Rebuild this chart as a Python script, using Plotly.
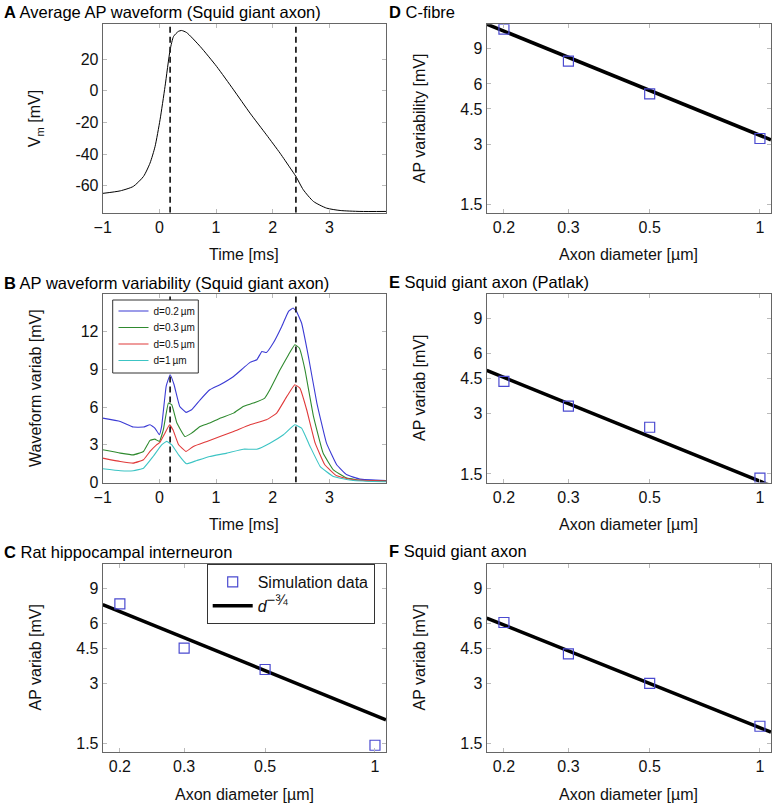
import plotly.graph_objects as go
from plotly.subplots import make_subplots

W, H = 775, 807

# ---------------- data ----------------
# Panel A: average AP waveform
t_a = [-1.0, -0.69, -0.46, -0.28, -0.165, -0.076, 0.012, 0.10, 0.19, 0.25, 0.335, 0.39, 0.48,
       0.72, 1.01, 1.31, 1.60, 1.89, 2.13, 2.31, 2.41, 2.54, 2.72, 2.95, 3.19, 3.54, 4.0]
v_a = [-64.8, -63.2, -60.4, -54.1, -45.7, -35.2, -18.3, 2.7, 25.9, 34.3, 37.5, 38.1, 36.8,
       28.0, 15.4, 0.6, -14.1, -27.8, -39.4, -48.8, -54.1, -62.5, -69.9, -74.1, -75.6, -76.2, -76.2]

event_times = [0.19, 2.41]

# Panel B: waveform variability
t_b02 = [-1.0, -0.69, -0.46, -0.28, -0.165, -0.08, 0.0, 0.04, 0.12, 0.19, 0.26, 0.36, 0.47, 0.57,
         0.72, 0.89, 1.07, 1.31, 1.48, 1.60, 1.72, 1.81, 1.89, 2.01, 2.16, 2.28, 2.36, 2.42, 2.51,
         2.63, 2.78, 2.95, 3.13, 3.31, 3.54, 4.0]
v_b02 = [5.12, 4.86, 4.41, 4.41, 4.59, 4.33, 3.80, 4.46, 7.65, 8.58, 7.78, 6.05, 5.58, 5.79,
         6.58, 7.38, 7.78, 8.44, 9.10, 9.56, 9.77, 10.43, 10.35, 11.10, 12.42, 13.62, 13.88, 13.62, 12.69,
         10.04, 6.32, 3.13, 1.41, 0.61, 0.27, 0.16]

t_b03 = [-1.0, -0.69, -0.46, -0.28, -0.165, -0.08, 0.0, 0.07, 0.16, 0.22, 0.31, 0.45, 0.57, 0.72,
         0.89, 1.07, 1.31, 1.48, 1.66, 1.86, 1.95, 2.13, 2.28, 2.39, 2.47, 2.57, 2.72, 2.89, 3.07,
         3.31, 3.6, 4.0]
v_b03 = [2.60, 2.34, 2.20, 2.47, 3.35, 3.45, 3.27, 4.19, 6.32, 6.18, 4.73, 3.66, 3.93, 4.46,
         4.73, 5.12, 5.52, 6.05, 6.32, 6.72, 7.38, 8.97, 10.17, 10.96, 10.70, 8.97, 5.26, 2.34, 1.01,
         0.35, 0.16, 0.11]

t_b05 = [-1.0, -0.69, -0.46, -0.28, -0.165, -0.05, 0.01, 0.10, 0.18, 0.24, 0.34, 0.47, 0.60, 0.84,
         1.07, 1.31, 1.60, 1.89, 2.07, 2.25, 2.39, 2.48, 2.60, 2.75, 2.92, 3.13, 3.42, 4.0]
v_b05 = [1.94, 1.67, 1.54, 1.81, 2.47, 3.00, 3.19, 3.93, 4.59, 4.19, 3.00, 2.47, 2.87, 3.27,
         3.66, 4.06, 4.59, 4.99, 5.52, 6.85, 7.78, 7.51, 5.79, 3.13, 1.41, 0.53, 0.21, 0.11]

t_b1 = [-1.0, -0.69, -0.46, -0.28, -0.11, 0.04, 0.13, 0.22, 0.34, 0.48, 0.66, 0.89, 1.19, 1.48,
        1.72, 1.95, 2.19, 2.39, 2.51, 2.66, 2.84, 3.07, 3.42, 4.0]
v_b1 = [1.09, 0.93, 0.93, 1.14, 2.07, 3.00, 3.27, 3.00, 2.20, 1.49, 1.75, 2.07, 2.34, 2.65,
        2.65, 3.13, 3.80, 4.59, 4.33, 2.87, 1.27, 0.48, 0.16, 0.05]

b_labels = ["d=0.2\u2009µm", "d=0.3\u2009µm", "d=0.5\u2009µm", "d=1\u2009µm"]
b_colors = ["#3b3bd4", "#2f8a2f", "#e03a3a", "#3cc4c4"]

# Panels C-F: AP variability vs axon diameter
diam = [0.2, 0.3, 0.5, 1.0]
var_c = [7.49, 4.50, 3.52, 1.47]
var_d = [11.3, 7.8, 5.35, 3.2]
var_e = [4.36, 3.28, 2.57, 1.43]
var_f = [6.05, 4.21, 3.00, 1.83]

fit_x = [0.1795, 1.072]
fit_c = [7.43, 1.97]
fit_d = [11.97, 3.15]
fit_e = [4.95, 1.31]
fit_f = [6.36, 1.71]

x_ticks_t = [-1, 0, 1, 2, 3]
x_ticktext_t = ["\u22121", "0", "1", "2", "3"]
y_ticks_a = [-60, -40, -20, 0, 20]
y_ticks_b = [0, 3, 6, 9, 12]
log_y_ticks = [1.5, 3, 4.5, 6, 9]
log_x_ticks = [0.2, 0.3, 0.5, 1]

# ---------------- figure ----------------
fig = make_subplots(rows=3, cols=2)

FONT = "Liberation Sans, Arial, sans-serif"
sq_color = "#4a4ad0"

# one single-entry legend per B curve so the entries can sit as tightly as in the original
b_legend_ids = ["legend", "legend3", "legend4", "legend5"]
b_legend_centers = [311.0, 327.5, 344.0, 360.5]   # pixel rows of entries

# A
fig.add_trace(go.Scatter(x=t_a, y=v_a, mode="lines", line=dict(color="black", width=1, shape="spline", smoothing=0.6),
                         showlegend=False), row=1, col=1)
# B
for tt, vv, lab, col, lid in zip([t_b02, t_b03, t_b05, t_b1], [v_b02, v_b03, v_b05, v_b1], b_labels, b_colors,
                                 b_legend_ids):
    fig.add_trace(go.Scatter(x=tt, y=vv, mode="lines", name=lab, line=dict(color=col, width=1.1, shape="spline", smoothing=0.3),
                             legend=lid), row=2, col=1)

# dashed event lines in A and B
for (r, yr) in [(1, [-77, 42]), (2, [0, 15])]:
    for te in event_times:
        fig.add_trace(go.Scatter(x=[te, te], y=yr, mode="lines", line=dict(color="#222", width=1.8, dash="6px,4px"),
                                 showlegend=False), row=r, col=1)

# C-F
panels = [(3, 1, var_c, fit_c, True), (1, 2, var_d, fit_d, False), (2, 2, var_e, fit_e, False), (3, 2, var_f, fit_f, False)]
for r, c, vv, ff, leg in panels:
    fig.add_trace(go.Scatter(x=fit_x, y=ff, mode="lines", line=dict(color="black", width=3.5),
                             name="<i>d</i><sup><span style='font-size:15px'>\u2212¾</span></sup>",
                             showlegend=leg, legend="legend2", legendrank=2), row=r, col=c)
    fig.add_trace(go.Scatter(x=diam, y=vv, mode="markers",
                             marker=dict(symbol="square-open", size=10, color=sq_color, line=dict(width=1.2, color=sq_color)),
                             name="Simulation data", showlegend=leg, legend="legend2", legendrank=1), row=r, col=c)

# ---------------- layout ----------------
def xdom(l, r):
    return [l / W, r / W]

def ydom(t, b):
    return [1 - b / H, 1 - t / H]

L_COL = (102.7, 386.0)
R_COL = (486.7, 771.0)
ROWS = [(24.3, 212.7), (294.0, 482.5), (563.5, 752.0)]

axis_common = dict(showline=True, linecolor="#666", linewidth=1, mirror="ticks", ticks="inside", ticklen=4,
                   tickcolor="#bbb", tickwidth=1, showgrid=False, zeroline=False, automargin=False,
                   tickfont=dict(family=FONT, size=16, color="#111"))

cells = {(1, 1): 1, (1, 2): 2, (2, 1): 3, (2, 2): 4, (3, 1): 5, (3, 2): 6}
layout_axes = {}
for (r, c), n in cells.items():
    xd = xdom(*(L_COL if c == 1 else R_COL))
    yd = ydom(*ROWS[r - 1])
    xa = dict(axis_common, domain=xd)
    ya = dict(axis_common, domain=yd)
    if c == 1 and r in (1, 2):
        xa.update(range=[-1, 4], tickvals=x_ticks_t, ticktext=x_ticktext_t)
        if r == 1:
            ya.update(range=[-77, 42], tickvals=y_ticks_a, ticktext=[str(v) for v in y_ticks_a])
        else:
            ya.update(range=[0, 15], tickvals=y_ticks_b, ticktext=[str(v) for v in y_ticks_b])
    else:
        xa.update(type="log", range=[-0.746, 0.0302], tickvals=log_x_ticks, ticktext=["0.2", "0.3", "0.5", "1"])
        ya.update(type="log", range=[0.1335, 1.077], tickvals=log_y_ticks, ticktext=["1.5", "3", "4.5", "6", "9"])
    suffix = "" if n == 1 else str(n)
    layout_axes["xaxis" + suffix] = xa
    layout_axes["yaxis" + suffix] = ya

fig.update_layout(**layout_axes)

annotations = []
def title(txt, x, y):
    annotations.append(dict(text=txt, x=x / W, y=1 - y / H, xref="paper", yref="paper", xanchor="left",
                            yanchor="middle", showarrow=False, font=dict(family=FONT, size=16.5, color="black")))

title("<b>A</b> Average AP waveform (Squid giant axon)", 2, 12)
title("<b>B</b> AP waveform variability (Squid giant axon)", 2, 283)
title("<b>C</b> Rat hippocampal interneuron", 2, 552)
title("<b>D</b> C-fibre", 387, 12)
title("<b>E</b> Squid giant axon (Patlak)", 387, 282)
title("<b>F</b> Squid giant axon", 387, 551)

def xtitle(txt, col, row):
    l, r = L_COL if col == 1 else R_COL
    b = ROWS[row - 1][1]
    annotations.append(dict(text=txt, x=(l + r) / 2 / W, y=1 - (b + 42) / H, xref="paper", yref="paper",
                            xanchor="center", yanchor="middle", showarrow=False,
                            font=dict(family=FONT, size=16, color="#111")))

def ytitle(txt, col, row):
    l, r = L_COL if col == 1 else R_COL
    t, b = ROWS[row - 1]
    annotations.append(dict(text=txt, x=(l - 67) / W, y=1 - (t + b) / 2 / H, xref="paper", yref="paper",
                            xanchor="center", yanchor="middle", textangle=-90, showarrow=False,
                            font=dict(family=FONT, size=16, color="#111")))

xtitle("Time [ms]", 1, 1)
xtitle("Time [ms]", 1, 2)
xtitle("Axon diameter [µm]", 1, 3)
xtitle("Axon diameter [µm]", 2, 1)
xtitle("Axon diameter [µm]", 2, 2)
xtitle("Axon diameter [µm]", 2, 3)
ytitle("V<sub>m</sub> [mV]", 1, 1)
ytitle("Waveform variab [mV]", 1, 2)
ytitle("AP variab [mV]", 1, 3)
ytitle("AP variability [mV]", 2, 1)
ytitle("AP variab [mV]", 2, 2)
ytitle("AP variab [mV]", 2, 3)

# frame of the B legend (white box drawn above the curves)
legend_box = dict(type="rect", xref="paper", yref="paper", x0=112.7 / W, x1=198.3 / W,
                  y0=1 - 373.0 / H, y1=1 - 300.0 / H, fillcolor="white",
                  line=dict(color="#333", width=1), layer="above")

legend_layouts = {}
for lid, cy in zip(b_legend_ids, b_legend_centers):
    legend_layouts[lid] = dict(x=113.5 / W, y=1 - cy / H, xanchor="left", yanchor="middle",
                               bgcolor="rgba(0,0,0,0)", borderwidth=0,
                               font=dict(family=FONT, size=10, color="#111"), itemwidth=30)

fig.update_layout(
    width=W, height=H,
    margin=dict(l=0, r=0, t=0, b=0),
    paper_bgcolor="white", plot_bgcolor="white",
    font=dict(family=FONT, color="#111"),
    annotations=annotations,
    shapes=[legend_box],
    legend2=dict(x=206.7 / W, y=1 - 564 / H, xanchor="left", yanchor="top", bordercolor="#333", borderwidth=1,
                 bgcolor="white", font=dict(family=FONT, size=16), itemwidth=40),
    **legend_layouts,
)

fig.write_html("out.html", config={"displayModeBar": False},
               post_script="document.body.style.margin='0';document.body.style.overflow='hidden';")
